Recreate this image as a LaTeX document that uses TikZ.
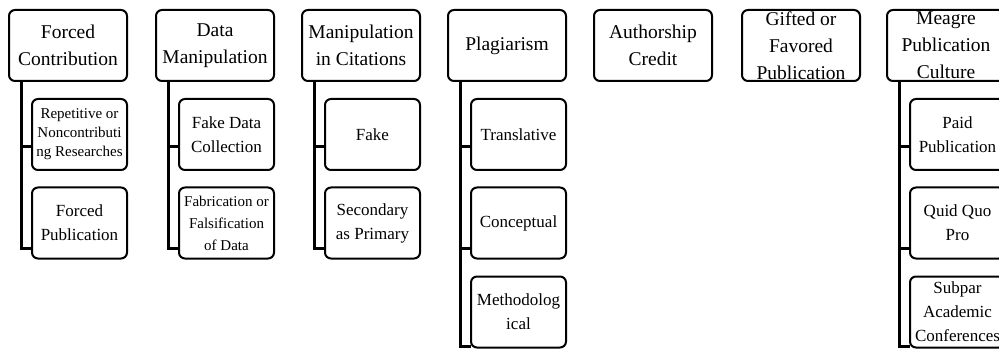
\documentclass[tikz,border=0pt]{standalone}
\usepackage{fontspec}
\setmainfont{Liberation Serif}
\usetikzlibrary{calc}
\begin{document}
\begin{tikzpicture}[x=1pt,y=-1pt,
 pbox/.style={draw, line width=2pt, rounded corners=6pt, fill=white, minimum width=118pt, minimum height=71pt, inner sep=0pt, outer sep=0pt},
 cbox/.style={draw, line width=2pt, rounded corners=6pt, fill=white, minimum width=95pt, minimum height=71pt, inner sep=0pt, outer sep=0pt},
 ptxt/.style={font=\fontsize{19.5}{27}\selectfont, align=center, inner sep=0pt},
 ctxt/.style={font=\fontsize{17}{24}\selectfont, align=center, inner sep=0pt},
 stxt/.style={font=\fontsize{15}{19}\selectfont, align=center, inner sep=0pt},
 conn/.style={line width=3pt}]
\useasboundingbox (0,0) rectangle (999,350);
\clip (0,0) rectangle (999,350);
\fill[white] (0,0) rectangle (999,350);

% parents
\node[pbox] (p1) at (68,45.5) {};
\node[pbox] (p2) at (215,45.5) {};
\node[pbox] (p3) at (361,45.5) {};
\node[pbox] (p4) at (507,45.5) {};
\node[pbox] (p5) at (653,45.5) {};
\node[pbox] (p6) at (801,45.5) {};
\node[pbox] (p7) at (946,45.5) {};

% children
\node[cbox] (c11) at (79.5,134.5) {};
\node[cbox] (c12) at (79.5,223) {};
\node[cbox] (c21) at (226.5,134.5) {};
\node[cbox] (c22) at (226.5,223) {};
\node[cbox] (c31) at (372.5,134.5) {};
\node[cbox] (c32) at (372.5,223) {};
\node[cbox] (c41) at (518.5,134.5) {};
\node[cbox] (c42) at (518.5,223) {};
\node[cbox] (c43) at (518.5,312) {};
\node[cbox] (c71) at (957.5,134.5) {};
\node[cbox] (c72) at (957.5,223) {};
\node[cbox] (c73) at (957.5,312) {};

% connector points
\foreach \p in {p1,p2,p3,p4,p7}{
  \coordinate (\p v) at ($(\p.south west)+(12.5,0)$);
}
\foreach \c in {c11,c21,c31,c41,c71}{
  \coordinate (\c e) at ($(\c.south west)+(0,-23)$);
}
\foreach \c in {c12,c22,c32,c42,c72}{
  \coordinate (\c e) at ($(\c.south west)+(0,-10)$);
}
\foreach \c in {c43,c73}{
  \coordinate (\c e) at ($(\c.south west)+(0,-1)$);
}

% connectors
\foreach \p/\a/\b in {p1/c11/c12, p2/c21/c22, p3/c31/c32}{
  \draw[conn] (\p v) |- (\b e);
  \draw[conn] (\p v |- \a e) -- (\a e);
}
\foreach \p/\a/\b/\c in {p4/c41/c42/c43, p7/c71/c72/c73}{
  \draw[conn] (\p v) |- (\c e);
  \draw[conn] (\p v |- \a e) -- (\a e);
  \draw[conn] (\p v |- \b e) -- (\b e);
}

% texts
\node[ptxt] (t1) at (p1) {Forced\\Contribution};
\node[ptxt] (t2) at (p2) {Data\\Manipulation};
\node[ptxt] (t3) at (p3) {Manipulation\\in Citations};
\node[ptxt] (t4) at (p4) {Plagiarism};
\node[ptxt] (t5) at (p5) {Authorship\\Credit};
\node[ptxt] (t6) at (p6) {Gifted or\\Favored\\Publication};
\node[ptxt] (t7) at (p7) {Meagre\\Publication\\Culture};

\node[stxt] (u11) at (c11) {Repetitive or\\Noncontributi\\ng Researches};
\node[ctxt] (u12) at (c12) {Forced\\Publication};
\node[ctxt] (u21) at (c21) {Fake Data\\Collection};
\node[stxt,font=\fontsize{15}{22}\selectfont] (u22) at (c22) {Fabrication or\\Falsification\\of Data};
\node[ctxt] (u31) at (c31) {Fake};
\node[ctxt] (u32) at (c32) {Secondary\\as Primary};
\node[ctxt] (u41) at (c41) {Translative};
\node[ctxt] (u42) at (c42) {Conceptual};
\node[ctxt] (u43) at (c43) {Methodolog\\ical};
\node[ctxt] (u71) at (c71) {Paid\\Publication};
\node[ctxt] (u72) at (c72) {Quid Quo\\Pro};
\node[ctxt] (u73) at (c73) {Subpar\\Academic\\Conferences};
\end{tikzpicture}
\end{document}
